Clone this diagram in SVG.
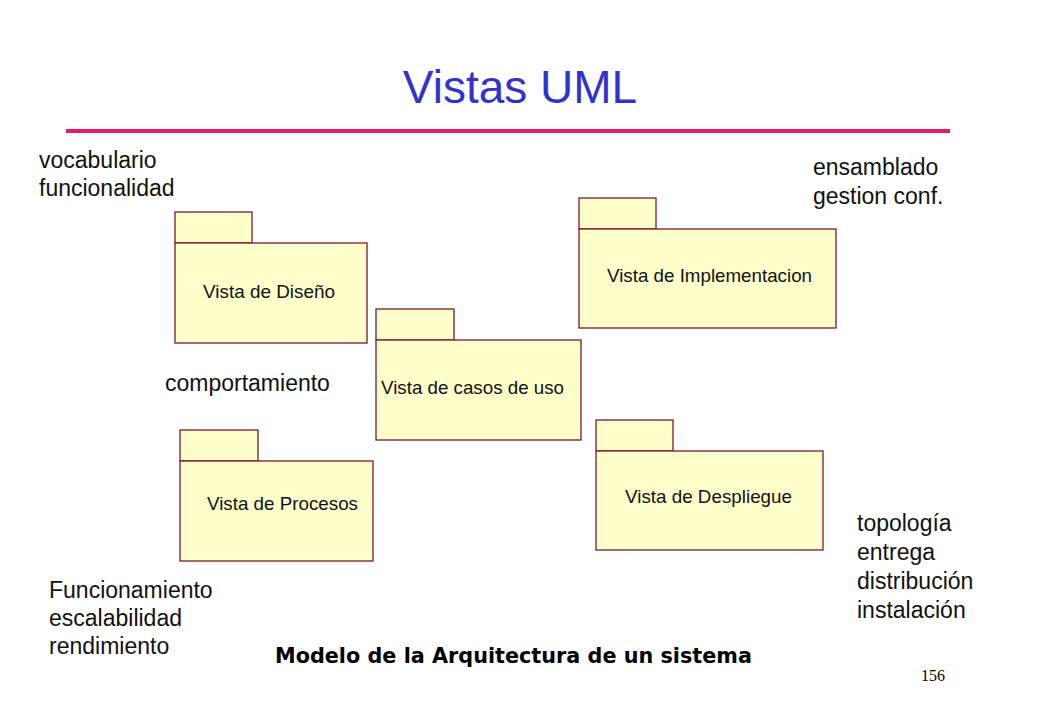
<svg xmlns="http://www.w3.org/2000/svg" width="1040" height="720" viewBox="0 0 1040 720">
<style>
.pkg rect{fill:#ffffcc;stroke:#7a1a2a;stroke-width:1.3}
.pt{font-family:"Liberation Sans",Arial,sans-serif;font-size:18.5px;fill:#111}
.side{font-family:"Liberation Sans",Arial,sans-serif;font-size:23px;fill:#111}
</style>
<rect width="1040" height="720" fill="#fff"/>
<text x="520" y="103" text-anchor="middle" font-family="Liberation Sans,Arial,sans-serif" font-size="46" fill="#3333cc">Vistas UML</text>
<rect x="66" y="129" width="884" height="4" fill="#e8186a"/>

<g id="diseno" class="pkg">
<rect x="175" y="212" width="77" height="31"/>
<rect x="175" y="243" width="192" height="100"/>
<text class="pt" x="203" y="298" textLength="132" lengthAdjust="spacingAndGlyphs">Vista de Diseño</text>
</g>
<g id="casos" class="pkg">
<rect x="376" y="309" width="78" height="31"/>
<rect x="376" y="340" width="205" height="100"/>
<text class="pt" x="381" y="394" textLength="183" lengthAdjust="spacingAndGlyphs">Vista de casos de uso</text>
</g>
<g id="implementacion" class="pkg">
<rect x="579" y="198" width="77" height="31"/>
<rect x="579" y="229" width="257" height="99"/>
<text class="pt" x="607" y="282" textLength="205" lengthAdjust="spacingAndGlyphs">Vista de Implementacion</text>
</g>
<g id="procesos" class="pkg">
<rect x="180" y="430" width="78" height="31"/>
<rect x="180" y="461" width="193" height="100"/>
<text class="pt" x="207" y="510" textLength="151" lengthAdjust="spacingAndGlyphs">Vista de Procesos</text>
</g>
<g id="despliegue" class="pkg">
<rect x="596" y="420" width="77" height="31"/>
<rect x="596" y="451" width="227" height="99"/>
<text class="pt" x="625" y="503" textLength="167" lengthAdjust="spacingAndGlyphs">Vista de Despliegue</text>
</g>
<g id="connectors"></g>

<text class="side" x="39" y="168">vocabulario</text>
<text class="side" x="39" y="196">funcionalidad</text>
<text class="side" x="813" y="175">ensamblado</text>
<text class="side" x="813" y="204">gestion conf.</text>
<text class="side" x="165" y="391">comportamiento</text>
<text class="side" x="857" y="531">topología</text>
<text class="side" x="857" y="560">entrega</text>
<text class="side" x="857" y="589">distribución</text>
<text class="side" x="857" y="618">instalación</text>
<text class="side" x="49" y="598">Funcionamiento</text>
<text class="side" x="49" y="626">escalabilidad</text>
<text class="side" x="49" y="654">rendimiento</text>
<text x="275" y="663" font-family="DejaVu Sans,Verdana,sans-serif" font-weight="bold" font-size="21" textLength="477" lengthAdjust="spacingAndGlyphs" fill="#000">Modelo de la Arquitectura de un sistema</text>
<text x="945" y="681" text-anchor="end" font-family="Liberation Serif,Times New Roman,serif" font-size="16" fill="#000">156</text>
</svg>
